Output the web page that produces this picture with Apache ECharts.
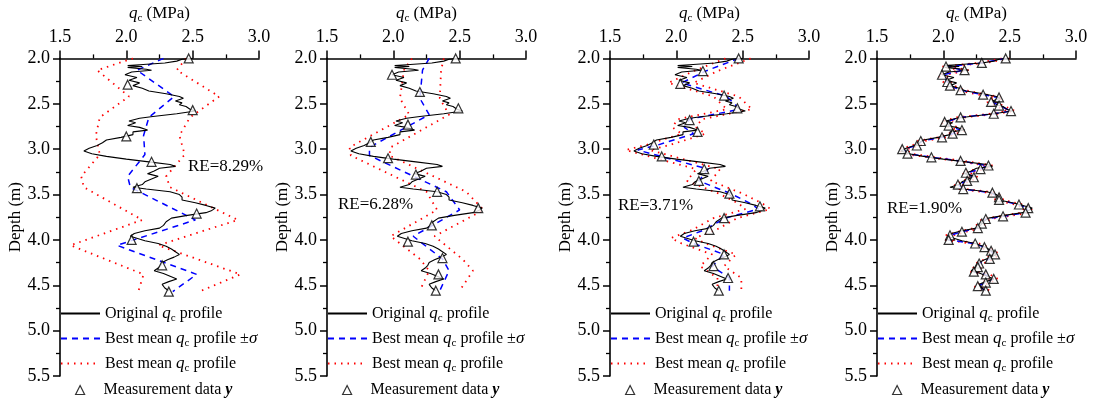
<!DOCTYPE html>
<html><head><meta charset="utf-8">
<script src="https://cdn.jsdelivr.net/npm/echarts@6/dist/echarts.min.js"></script>
<style>html,body{margin:0;padding:0;background:#fff}#c{width:1096px;height:400px}</style>
</head><body><div id="c"></div>
<script>
// ---------- data ----------
const xTicks = [1.5, 2.0, 2.5, 3.0];
const yTicks = [2.0, 2.5, 3.0, 3.5, 4.0, 4.5, 5.0, 5.5];
const reLabels = ['RE=8.29%', 'RE=6.28%', 'RE=3.71%', 'RE=1.90%'];

// original qc profile (same in every panel)
const origDepth = [2.00,2.01,2.03,2.05,2.07,2.08,2.09,2.10,2.12,2.13,2.15,2.18,2.21,2.24,2.27,2.30,2.33,2.36,2.39,2.42,2.44,2.47,2.49,2.51,2.53,2.56,2.58,2.61,2.64,2.66,2.69,2.71,2.74,2.76,2.79,2.81,2.84,2.87,2.90,2.93,2.96,2.99,3.02,3.05,3.08,3.11,3.14,3.17,3.19,3.21,3.24,3.27,3.30,3.33,3.36,3.39,3.42,3.44,3.47,3.50,3.53,3.56,3.59,3.62,3.65,3.68,3.70,3.73,3.76,3.80,3.84,3.87,3.90,3.93,3.96,3.98,4.01,4.04,4.07,4.10,4.13,4.16,4.19,4.22,4.25,4.28,4.31,4.34,4.37,4.40,4.43,4.46,4.49,4.51,4.53,4.56];
const origQ     = [2.50,2.42,2.38,2.29,2.10,2.01,2.12,2.01,2.15,2.19,2.04,1.99,2.08,2.02,2.10,2.05,2.12,2.17,2.30,2.40,2.43,2.37,2.42,2.40,2.45,2.48,2.52,2.38,2.20,2.10,2.02,2.07,2.01,2.10,2.16,2.05,2.05,1.96,1.85,1.82,1.78,1.72,1.68,1.74,1.85,2.00,2.17,2.33,2.37,2.25,2.21,2.16,2.24,2.19,2.14,2.12,2.05,2.15,2.33,2.40,2.42,2.42,2.52,2.60,2.67,2.64,2.60,2.46,2.34,2.30,2.28,2.25,2.14,2.06,2.03,2.04,2.14,2.24,2.30,2.34,2.37,2.40,2.36,2.31,2.27,2.26,2.24,2.21,2.28,2.33,2.38,2.32,2.27,2.26,2.29,2.32];

// panel 1 (RE=8.29%)
const p1MeasDepth = [2.00,2.29,2.57,2.86,3.14,3.43,3.71,4.00,4.28,4.57];
const p1MeasQ     = [2.47,2.01,2.50,2.00,2.19,2.08,2.53,2.04,2.27,2.32];
const p1MeanDepth = [2.00,2.13,2.42,2.65,2.85,3.06,3.30,3.42,3.78,4.06,4.38,4.57];
const p1MeanQ     = [2.28,2.08,2.36,2.17,2.13,2.14,2.01,2.03,2.52,1.93,2.53,2.35];
const p1LowQ      = [2.05,1.78,2.02,1.80,1.77,1.80,1.66,1.68,2.12,1.58,2.13,2.09];
const p1HighQ     = [2.45,2.38,2.70,2.48,2.40,2.44,2.30,2.33,2.84,2.24,2.86,2.55];

// panel 2 (RE=6.28%)
const p2MeasDepth = [2.00,2.18,2.37,2.55,2.73,2.92,3.10,3.28,3.47,3.65,3.84,4.02,4.20,4.38,4.56];
const p2MeasQ     = [2.47,1.99,2.20,2.49,2.11,1.83,1.96,2.17,2.33,2.64,2.29,2.11,2.37,2.34,2.32];
const p2MeanDepth = [2.00,2.13,2.44,2.62,2.98,3.07,3.47,3.67,3.96,4.21,4.34,4.56];
const p2MeanQ     = [2.27,2.22,2.20,2.27,1.82,1.82,2.40,2.50,2.15,2.37,2.42,2.35];
const p2LowQ      = [2.14,2.08,2.05,2.12,1.67,1.68,2.25,2.33,1.98,2.20,2.27,2.20];
const p2HighQ     = [2.38,2.36,2.35,2.42,1.98,1.97,2.55,2.68,2.31,2.52,2.60,2.50];

// panel 3 (RE=3.71%)
const p3MeasDepth = [2.00,2.14,2.28,2.41,2.55,2.68,2.81,2.95,3.08,3.22,3.35,3.49,3.63,3.76,3.89,4.02,4.16,4.29,4.42,4.56];
const p3MeasQ     = [2.47,2.20,2.03,2.36,2.46,2.10,2.16,1.83,1.89,2.21,2.17,2.40,2.63,2.36,2.25,2.13,2.36,2.28,2.39,2.32];
const p3MeanDepth = [2.00,2.14,2.27,2.42,2.56,2.67,2.76,2.83,2.95,3.01,3.09,3.22,3.35,3.49,3.60,3.66,3.76,3.89,3.98,4.04,4.16,4.29,4.42,4.56];
const p3MeanQ     = [2.47,2.22,2.04,2.38,2.48,2.10,2.06,2.13,1.87,1.71,1.91,2.24,2.17,2.41,2.56,2.62,2.37,2.21,2.05,2.13,2.36,2.27,2.40,2.40];
const p3LowQ      = [2.37,2.13,1.94,2.28,2.38,2.01,1.97,2.04,1.78,1.62,1.82,2.15,2.08,2.32,2.47,2.52,2.28,2.12,1.96,2.04,2.27,2.18,2.31,2.31];
const p3HighQ     = [2.56,2.31,2.13,2.47,2.57,2.19,2.15,2.22,1.96,1.80,2.00,2.33,2.26,2.50,2.65,2.71,2.46,2.30,2.14,2.22,2.45,2.36,2.49,2.49];

// panel 4 (RE=1.90%)
const p4MeasDepth = [2.00,2.05,2.09,2.13,2.18,2.26,2.30,2.35,2.40,2.43,2.48,2.52,2.58,2.61,2.65,2.70,2.74,2.79,2.83,2.87,2.91,2.96,3.00,3.05,3.09,3.13,3.18,3.22,3.26,3.31,3.35,3.39,3.44,3.48,3.53,3.56,3.61,3.65,3.70,3.74,3.77,3.82,3.87,3.91,3.95,4.00,4.04,4.08,4.12,4.16,4.21,4.26,4.30,4.35,4.38,4.43,4.47,4.51,4.56];
const p4MeasQ     = [2.47,2.29,2.02,2.16,1.99,2.03,2.05,2.13,2.30,2.42,2.36,2.42,2.51,2.38,2.13,2.01,2.04,2.14,2.07,1.99,1.83,1.80,1.69,1.73,1.91,2.13,2.34,2.28,2.17,2.23,2.18,2.11,2.15,2.37,2.42,2.42,2.57,2.64,2.62,2.45,2.32,2.29,2.26,2.14,2.05,2.04,2.24,2.31,2.36,2.39,2.35,2.27,2.26,2.23,2.32,2.38,2.32,2.26,2.32];
const p4MeanDepth = p4MeasDepth;
const p4MeanQ     = [2.47,2.29,2.03,2.15,2.00,2.03,2.05,2.13,2.30,2.41,2.37,2.42,2.51,2.38,2.13,2.02,2.04,2.13,2.07,1.99,1.84,1.80,1.70,1.73,1.91,2.13,2.33,2.28,2.18,2.22,2.18,2.11,2.15,2.36,2.42,2.42,2.56,2.64,2.62,2.45,2.32,2.29,2.26,2.14,2.05,2.04,2.23,2.31,2.36,2.38,2.35,2.27,2.26,2.23,2.31,2.38,2.32,2.26,2.32];
const p4LowQ      = [2.44,2.26,1.99,2.13,1.96,2.00,2.02,2.10,2.27,2.39,2.33,2.39,2.48,2.35,2.10,1.98,2.01,2.11,2.04,1.96,1.80,1.77,1.66,1.70,1.88,2.10,2.31,2.25,2.14,2.20,2.15,2.08,2.12,2.34,2.39,2.39,2.54,2.61,2.59,2.42,2.29,2.26,2.23,2.11,2.02,2.01,2.21,2.28,2.33,2.36,2.32,2.24,2.23,2.20,2.29,2.35,2.29,2.23,2.29];
const p4HighQ     = [2.50,2.32,2.05,2.19,2.02,2.06,2.08,2.16,2.33,2.45,2.39,2.45,2.54,2.41,2.16,2.04,2.07,2.17,2.10,2.02,1.86,1.83,1.72,1.76,1.94,2.16,2.37,2.31,2.20,2.26,2.21,2.14,2.18,2.40,2.45,2.45,2.60,2.67,2.65,2.48,2.35,2.32,2.29,2.17,2.08,2.07,2.27,2.34,2.39,2.42,2.38,2.30,2.29,2.26,2.35,2.41,2.35,2.29,2.35];

const panels = [
  {measD:p1MeasDepth, measQ:p1MeasQ, meanD:p1MeanDepth, meanQ:p1MeanQ, low:p1LowQ, high:p1HighQ},
  {measD:p2MeasDepth, measQ:p2MeasQ, meanD:p2MeanDepth, meanQ:p2MeanQ, low:p2LowQ, high:p2HighQ},
  {measD:p3MeasDepth, measQ:p3MeasQ, meanD:p3MeanDepth, meanQ:p3MeanQ, low:p3LowQ, high:p3HighQ},
  {measD:p4MeasDepth, measQ:p4MeasQ, meanD:p4MeanDepth, meanQ:p4MeanQ, low:p4LowQ, high:p4HighQ}
];

// ---------- layout / style ----------
const FONT = '"Liberation Serif", "DejaVu Serif", serif';
const gridLefts = [60, 327, 610, 877];
const reTops = [158, 196, 197, 200];
const reLefts = [188, 338, 618, 887];
const pair = (qs, ds) => qs.map((q, k) => [q, ds[k]]);

const rich = {
  q: {fontStyle: 'italic', fontFamily: FONT, fontSize: 17, color: '#000'},
  c: {fontFamily: FONT, fontSize: 11, color: '#000', padding: [9, 0, 0, 0]},
  s: {fontStyle: 'italic', fontFamily: FONT, fontSize: 17, color: '#000'},
  y: {fontStyle: 'italic', fontWeight: 'bold', fontFamily: FONT, fontSize: 16, color: '#000'},
  sp: {width: 14}
};
const legendNames = {
  orig: 'Original {q|q}{c|c} profile',
  mean: 'Best mean {q|q}{c|c} profile ±{s|σ}',
  sd: 'Best mean {q|q}{c|c} profile',
  meas: '{sp|}Measurement data {y|y}'
};
const hideSym = {opacity: 0, color: 'transparent', borderWidth: 0};

const grid = [], xAxis = [], yAxis = [], series = [], legend = [], graphic = [];
panels.forEach((p, i) => {
  grid.push({left: gridLefts[i], top: 53, width: 199, height: 323});
  xAxis.push({
    gridIndex: i, type: 'value', position: 'top', min: xTicks[0], max: xTicks[xTicks.length - 1], interval: 0.5,
    axisLine: {show: true, onZero: false, lineStyle: {color: '#000', width: 1.6}},
    axisTick: {show: true, inside: false, length: 8, lineStyle: {color: '#000', width: 1.5}},
    minorTick: {show: true, splitNumber: 2, length: 4, lineStyle: {color: '#000', width: 1.3}},
    splitLine: {show: false},
    axisLabel: {color: '#000', fontFamily: FONT, fontSize: 18, margin: 12, formatter: v => v.toFixed(1)},
    name: '{q|q}{c|c} (MPa)', nameLocation: 'middle', nameGap: 32,
    nameTextStyle: {color: '#000', fontFamily: FONT, fontSize: 17, rich: rich}
  });
  yAxis.push({
    gridIndex: i, type: 'value', inverse: true, min: yTicks[0], max: yTicks[yTicks.length - 1], interval: 0.5,
    axisLine: {show: true, onZero: false, lineStyle: {color: '#000', width: 1.6}},
    axisTick: {show: true, inside: false, length: 7, lineStyle: {color: '#000', width: 1.5}},
    minorTick: {show: true, splitNumber: 2, length: 4, lineStyle: {color: '#000', width: 1.3}},
    splitLine: {show: false},
    axisLabel: {color: '#000', fontFamily: FONT, fontSize: 18, margin: 10, formatter: v => v.toFixed(1)},
    name: 'Depth (m)', nameLocation: 'middle', nameGap: 36, nameRotate: 90,
    nameTextStyle: {color: '#000', fontFamily: FONT, fontSize: 17}
  });
  const ax = {xAxisIndex: i, yAxisIndex: i};
  series.push(Object.assign({type: 'line', name: 'orig', data: pair(origQ, origDepth), symbol: 'none', z: 4,
    lineStyle: {color: '#000', width: 1.1}, itemStyle: {color: '#000'}}, ax));
  series.push(Object.assign({type: 'line', name: 'mean', data: pair(p.meanQ, p.meanD), symbol: 'none', z: 3,
    lineStyle: {color: '#0000ff', width: 1.5, type: [6, 5]}, itemStyle: {color: '#0000ff'}}, ax));
  series.push(Object.assign({type: 'line', name: 'sd', data: pair(p.low, p.meanD), symbol: 'none', z: 2,
    lineStyle: {color: '#ff0000', width: 1.8, type: [1.5, 5]}, itemStyle: {color: '#ff0000'}}, ax));
  series.push(Object.assign({type: 'line', name: 'sd', data: pair(p.high, p.meanD), symbol: 'none', z: 2,
    lineStyle: {color: '#ff0000', width: 1.8, type: [1.5, 5]}, itemStyle: {color: '#ff0000'}}, ax));
  series.push(Object.assign({type: 'scatter', name: 'meas', data: pair(p.measQ, p.measD), symbol: 'triangle', symbolSize: 9, z: 5,
    itemStyle: {color: '#fff', borderColor: '#000', borderWidth: 1.2}}, ax));
  legend.push({
    left: gridLefts[i], top: 305, padding: 0, orient: 'vertical', itemWidth: 39, itemHeight: 14, itemGap: 6.5,
    selectedMode: false,
    data: [{name: 'orig', itemStyle: hideSym}, {name: 'mean', itemStyle: hideSym}, {name: 'sd', itemStyle: hideSym}],
    formatter: n => legendNames[n],
    textStyle: {color: '#000', fontFamily: FONT, fontSize: 16, rich: rich}
  });
  legend.push({
    left: gridLefts[i] + 15, top: 382, padding: 0, orient: 'vertical', itemWidth: 9, itemHeight: 9,
    selectedMode: false,
    data: [{name: 'meas', icon: 'triangle', itemStyle: {color: '#fff', borderColor: '#000', borderWidth: 1.2}}],
    formatter: n => legendNames[n],
    textStyle: {color: '#000', fontFamily: FONT, fontSize: 16, rich: rich}
  });
  graphic.push({type: 'text', left: reLefts[i], top: reTops[i], style: {text: reLabels[i], font: '17px "Liberation Serif"', fill: '#000'}});
});

const chart = echarts.init(document.getElementById('c'), null, {renderer: 'canvas'});
chart.setOption({animation: false, backgroundColor: '#fff', grid, xAxis, yAxis, series, legend, graphic});
</script>
</body></html>
